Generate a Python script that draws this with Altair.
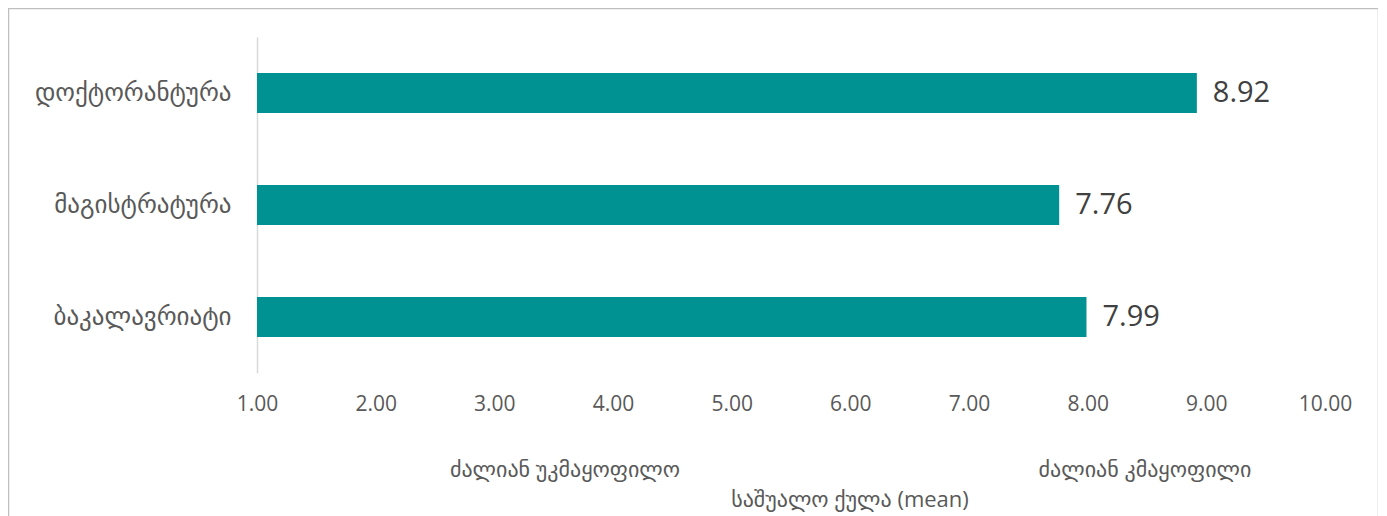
import altair as alt
import pandas as pd

categories = ["დოქტორანტურა", "მაგისტრატურა", "ბაკალავრიატი"]
values = [8.92, 7.76, 7.99]
x_ticks = [1, 2, 3, 4, 5, 6, 7, 8, 9, 10]
low_note = "ძალიან უკმაყოფილო"
high_note = "ძალიან კმაყოფილი"
axis_title = "საშუალო ქულა (mean)"

df = pd.DataFrame({"cat": categories, "val": values})

FONT = "Open Sans, DejaVu Sans, sans-serif"
W, H = 1068, 336

xs = alt.Scale(domain=[1, 10], nice=False, zero=False)
ys = alt.Scale(paddingInner=0.643, paddingOuter=0.32)

base = alt.Chart(df)

bars = base.mark_bar(color="#009193").encode(
    x=alt.X("val:Q", scale=xs,
            axis=alt.Axis(values=x_ticks, format=".2f", title=None, grid=False,
                          domain=False, ticks=False, labelFontSize=21, labelFlush=False,
                          labelColor="#595959", labelFont=FONT, labelPadding=20)),
    x2=alt.datum(1),
    y=alt.Y("cat:N", sort=categories, scale=ys,
            axis=alt.Axis(title=None, ticks=False, domainColor="#d9d9d9",
                          domainWidth=1.5, labelFontSize=25, labelColor="#595959",
                          labelFont=FONT, labelPadding=26, labelLimit=300)),
)

labels = base.mark_text(align="left", baseline="middle", dx=16, fontSize=29,
                        color="#404040", font=FONT).encode(
    x=alt.X("val:Q", scale=xs),
    y=alt.Y("cat:N", sort=categories, scale=ys),
    text=alt.Text("val:Q", format=".2f"),
)

def note(txt, px, py):
    return alt.Chart(pd.DataFrame({"t": [txt]})).mark_text(
        fontSize=22, color="#595959", font=FONT, align="center", baseline="middle").encode(
        text="t:N", x=alt.value(px), y=alt.value(py))

note_low = note(low_note, 308, 433)
note_high = note(high_note, 888, 433)
title_txt = note(axis_title, 593, 463)

frame = alt.Chart(pd.DataFrame({"a": [0]})).mark_rect(
    fill=None, stroke="#bfbfbf", strokeWidth=1.5).encode(
    x=alt.value(-248.5), x2=alt.value(1121.5), y=alt.value(-28.5), y2=alt.value(520))

chart = alt.layer(frame, bars, labels, note_low, note_high, title_txt).properties(
    width=W, height=H,
    background="white",
    autosize=alt.AutoSizeParams(type="none"),
    padding={"left": 249, "top": 29, "right": 53, "bottom": 143},
).configure_view(stroke=None)

chart.save("out.html", embed_options={"renderer": "svg", "actions": False})
